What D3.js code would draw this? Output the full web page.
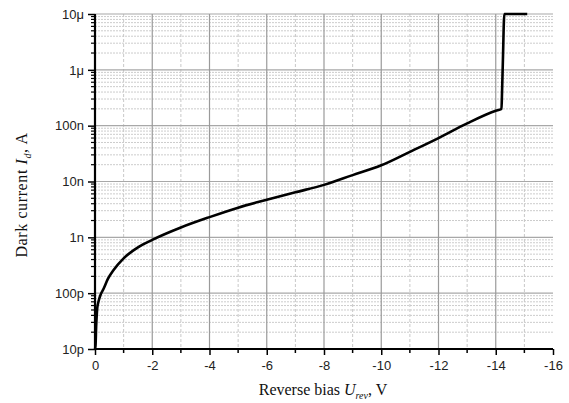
<!DOCTYPE html>
<html>
<head>
<meta charset="utf-8">
<script src="https://cdn.jsdelivr.net/npm/d3@7"></script>
<style>
  body { margin: 0; background: #fff; }
  svg { display: block; }
</style>
</head>
<body>
<svg id="chart" width="569" height="403"></svg>
<script>
// reverse bias (V) and dark current (A)
const bias = [0, -0.02, -0.04, -0.06, -0.08, -0.12, -0.2, -0.3, -0.45, -0.65, -1.0, -1.5, -2.0, -3.0, -4.0, -5.0, -6.0, -7.0, -8.0, -9.0, -10.0, -11.0, -12.0, -13.0, -14.0, -14.2, -14.22, -14.25, -14.3, -15.1];
const current = [1e-11, 1.2e-11, 2.5e-11, 4e-11, 5.5e-11, 7e-11, 9.5e-11, 1.2e-10, 1.8e-10, 2.6e-10, 4.2e-10, 6.6e-10, 9.0e-10, 1.5e-9, 2.3e-9, 3.4e-9, 4.7e-9, 6.4e-9, 8.7e-9, 1.3e-8, 1.95e-8, 3.4e-8, 6.0e-8, 1.1e-7, 1.85e-7, 2.0e-7, 4e-7, 1.5e-6, 1e-5, 1e-5];

const xTicks = [0, -2, -4, -6, -8, -10, -12, -14, -16];
const xMinor = [-1, -3, -5, -7, -9, -11, -13, -15];
const yTicks = [1e-11, 1e-10, 1e-9, 1e-8, 1e-7, 1e-6, 1e-5];
const yLabels = ["10p", "100p", "1n", "10n", "100n", "1\u03bc", "10\u03bc"];

const svg = d3.select("#chart");
const plot = { left: 95, right: 553, top: 14, bottom: 349 };

const x = d3.scaleLinear().domain([0, -16]).range([plot.left, plot.right]);
const y = d3.scaleLog().domain([1e-11, 1e-5]).range([plot.bottom, plot.top]);

// minor values inside each decade
let yMinor = [];
yTicks.slice(0, -1).forEach(d => {
  for (let k = 2; k <= 9; k++) yMinor.push(d * k);
});

const grid = svg.append("g");

// minor grid
grid.selectAll(".ym").data(yMinor).join("line")
  .attr("x1", plot.left).attr("x2", plot.right)
  .attr("y1", d => y(d)).attr("y2", d => y(d))
  .attr("stroke", "#cccccc").attr("stroke-width", 1)
  .attr("stroke-dasharray", "2,1");

grid.selectAll(".xm").data(xMinor).join("line")
  .attr("x1", d => x(d)).attr("x2", d => x(d))
  .attr("y1", plot.top).attr("y2", plot.bottom)
  .attr("stroke", "#c8c8c8").attr("stroke-width", 1)
  .attr("stroke-dasharray", "3,2");

// major grid
grid.selectAll(".yM").data(yTicks.slice(1)).join("line")
  .attr("x1", plot.left).attr("x2", plot.right)
  .attr("y1", d => y(d)).attr("y2", d => y(d))
  .attr("stroke", "#a8a8a8").attr("stroke-width", 1.2);

grid.selectAll(".xM").data(xTicks.slice(1, -1)).join("line")
  .attr("x1", d => x(d)).attr("x2", d => x(d))
  .attr("y1", plot.top).attr("y2", plot.bottom)
  .attr("stroke", "#9a9a9a").attr("stroke-width", 1.2);

// axes
const xAxis = svg.append("g")
  .attr("transform", `translate(0,${plot.bottom})`)
  .call(d3.axisBottom(x).tickValues(xTicks).tickFormat(d => String(d)).tickSize(6).tickPadding(6));
xAxis.append("g").selectAll("line").data(xMinor).join("line")
  .attr("x1", d => x(d)).attr("x2", d => x(d))
  .attr("y1", 0).attr("y2", 4).attr("stroke", "#000").attr("stroke-width", 1.5);

const yAxis = svg.append("g")
  .attr("transform", `translate(${plot.left},0)`)
  .call(d3.axisLeft(y).tickValues(yTicks).tickFormat((d, i) => yLabels[i]).tickSize(7).tickPadding(4));
yAxis.append("g").selectAll("line").data(yMinor).join("line")
  .attr("x1", -4).attr("x2", 0)
  .attr("y1", d => y(d)).attr("y2", d => y(d))
  .attr("stroke", "#000").attr("stroke-width", 1.2);

[xAxis, yAxis].forEach(a => {
  a.select(".domain").attr("stroke", "#000").attr("stroke-width", 2.2);
  a.selectAll(".tick line").attr("stroke", "#000").attr("stroke-width", 1.5);
  a.selectAll("text")
    .attr("fill", "#222")
    .style("font-family", "'Liberation Sans', Arial, sans-serif")
    .style("font-size", "13px");
});
xAxis.select(".domain").attr("d", `M${plot.left},0H${plot.right}`);
yAxis.select(".domain").attr("d", `M0,${plot.bottom}V${plot.top}`);

// the curve
const pts = bias.map((b, i) => [b, current[i]]);
svg.append("path")
  .datum(pts)
  .attr("fill", "none")
  .attr("stroke", "#000")
  .attr("stroke-width", 2.6)
  .attr("stroke-linejoin", "round")
  .attr("d", d3.line().x(d => x(d[0])).y(d => y(d[1])).curve(d3.curveMonotoneX));

// axis titles
const serif = "'Liberation Serif', 'Times New Roman', serif";
const xt = svg.append("text")
  .attr("x", 323).attr("y", 395)
  .attr("text-anchor", "middle")
  .style("font-family", serif).style("font-size", "16px").attr("fill", "#111");
xt.append("tspan").text("Reverse bias ");
xt.append("tspan").attr("font-style", "italic").text("U");
xt.append("tspan").attr("font-style", "italic").attr("font-size", "10px").attr("dy", 4).text("rev");
xt.append("tspan").attr("dy", -4).text(", V");

const yt = svg.append("text")
  .attr("transform", "translate(27,195) rotate(-90)")
  .attr("text-anchor", "middle")
  .style("font-family", serif).style("font-size", "16px")
  .style("letter-spacing", "0.6px").attr("fill", "#111");
yt.append("tspan").text("Dark current ");
yt.append("tspan").attr("font-style", "italic").text("I");
yt.append("tspan").attr("font-style", "italic").attr("font-size", "10px").attr("dy", 4).text("d");
yt.append("tspan").attr("dy", -4).text(", A");
</script>
</body>
</html>
